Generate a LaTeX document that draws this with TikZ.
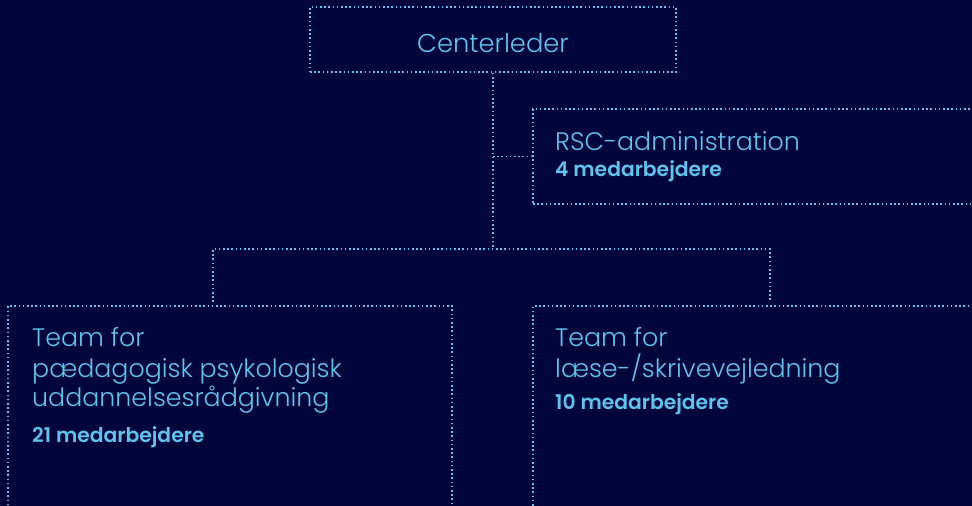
\documentclass[tikz,border=0pt]{standalone}
\usepackage{fontspec}
\setmainfont{Poppins}[UprightFont=* Light, BoldFont=* SemiBold]
\definecolor{bg}{RGB}{0,5,60}
\definecolor{fg}{RGB}{95,195,235}
\begin{document}
\begin{tikzpicture}[x=1pt,y=-1pt,
  box/.style={draw=fg, line width=1.6pt, dash pattern=on 1.6pt off 2.6pt, inner sep=0pt, minimum width=#1},
  conn/.style={draw=fg, line width=1.6pt, dash pattern=on 1.6pt off 2.6pt},
  title/.style={text=fg, anchor=base west, inner sep=0pt, font=\fontsize{25.3}{30}\selectfont},
  count/.style={text=fg, anchor=base west, inner sep=0pt, font=\fontsize{20.3}{22}\selectfont\bfseries}]
\fill[bg] (0,0) rectangle (972,506);
\useasboundingbox (0,0) rectangle (972,506);
\begin{scope}
\clip (0,0) rectangle (972,506);
\node[box=366pt, minimum height=65pt] (ctr) at (493,39.5) {};
\node[box=467pt, minimum height=95pt] (rsc) at (766.5,156.5) {};
\node[box=444pt, minimum height=254pt] (tl) at (230,433) {};
\node[box=467pt, minimum height=254pt] (tr) at (766.5,433) {};
\end{scope}
\coordinate (bus) at (493,249);
\coordinate (busL) at (213,249);
\coordinate (busR) at (770,249);
\coordinate (dropL) at (213,302);
\coordinate (dropR) at (770,302);
\draw[conn] (ctr.south) -- (bus);
\draw[conn] (ctr.south |- rsc.west) -- (rsc.west);
\draw[conn] (dropL) -- (busL) -- (busR) -- (dropR);
\node[text=fg, anchor=base, inner sep=0pt, font=\fontsize{25.8}{30}\selectfont] (ctrt) at (493,52) {Centerleder};
\node[title] (rsct) at (555,150) {RSC-administration};
\node[count] (rscc) at (555,176) {4 medarbejdere};
\node[title] (tl1) at (32,346) {Team for};
\node[title] (tl2) at (32,377) {pædagogisk psykologisk};
\node[title] (tl3) at (32,406) {uddannelsesrådgivning};
\node[count] (tlc) at (32,442) {21 medarbejdere};
\node[title] (tr1) at (555,346) {Team for};
\node[title] (tr2) at (555,377) {læse-/skrivevejledning};
\node[count] (trc) at (555,409) {10 medarbejdere};
\end{tikzpicture}
\end{document}
